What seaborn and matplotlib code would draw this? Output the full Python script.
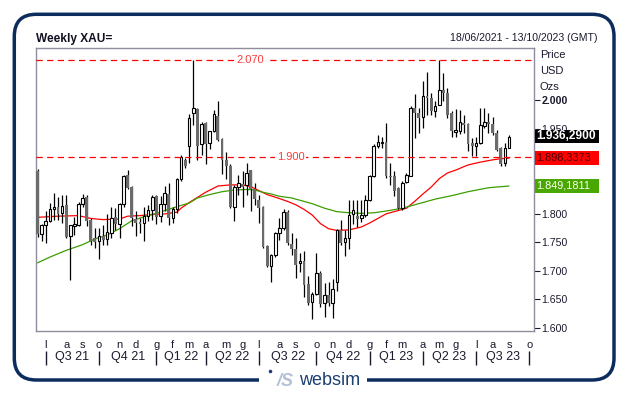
import numpy as np
import pandas as pd
import matplotlib
matplotlib.use('Agg')
import matplotlib.pyplot as plt
import matplotlib.transforms as mtransforms
from matplotlib.patches import FancyBboxPatch, Rectangle, Circle
import seaborn as sns

# weekly XAU candles (1.936 = 1.936 USD/oz in the source notation)
start_date = '2021-06-18'
end_date = '2023-10-13'

opens = [1.875, 1.764, 1.781, 1.787, 1.808, 1.812, 1.801, 1.816, 1.762, 1.778,
         1.780, 1.818, 1.830, 1.790, 1.758, 1.752, 1.762, 1.756, 1.767, 1.794,
         1.782, 1.817, 1.868, 1.847, 1.791, 1.786, 1.784, 1.796, 1.806, 1.831,
         1.796, 1.817, 1.835, 1.792, 1.808, 1.862, 1.895, 1.920, 1.977, 1.985,
         1.922, 1.960, 1.924, 1.946, 1.972, 1.932, 1.895, 1.884, 1.812, 1.847,
         1.853, 1.851, 1.877, 1.843, 1.825, 1.812, 1.743, 1.708, 1.727, 1.766,
         1.775, 1.803, 1.747, 1.738, 1.713, 1.717, 1.677, 1.646, 1.659, 1.696,
         1.643, 1.658, 1.643, 1.681, 1.772, 1.751, 1.757, 1.800, 1.796, 1.793,
         1.798, 1.824, 1.866, 1.920, 1.925, 1.927, 1.867, 1.867, 1.845, 1.810,
         1.856, 1.867, 1.987, 1.977, 1.970, 2.007, 2.004, 1.980, 1.991, 2.017,
         2.012, 1.977, 1.944, 1.946, 1.960, 1.958, 1.925, 1.919, 1.925, 1.954,
         1.962, 1.958, 1.942, 1.916, 1.889, 1.916]
highs = [1.879, 1.783, 1.805, 1.819, 1.836, 1.829, 1.834, 1.834, 1.781, 1.795,
         1.821, 1.835, 1.834, 1.793, 1.775, 1.775, 1.781, 1.799, 1.812, 1.810,
         1.819, 1.869, 1.877, 1.849, 1.805, 1.793, 1.812, 1.815, 1.834, 1.834,
         1.831, 1.849, 1.854, 1.812, 1.863, 1.903, 1.899, 1.975, 2.070, 1.987,
         1.962, 1.962, 1.946, 1.983, 1.999, 1.934, 1.909, 1.887, 1.851, 1.869,
         1.875, 1.889, 1.878, 1.854, 1.834, 1.814, 1.746, 1.729, 1.768, 1.793,
         1.808, 1.806, 1.766, 1.758, 1.731, 1.734, 1.690, 1.662, 1.731, 1.700,
         1.678, 1.680, 1.685, 1.774, 1.789, 1.772, 1.824, 1.824, 1.824, 1.824,
         1.833, 1.869, 1.922, 1.939, 1.936, 1.960, 1.889, 1.875, 1.848, 1.857,
         1.872, 1.989, 2.010, 1.986, 2.033, 2.049, 2.012, 1.998, 2.071, 2.048,
         2.021, 1.981, 1.985, 1.983, 1.974, 1.960, 1.933, 1.935, 1.987, 1.987,
         1.977, 1.971, 1.948, 1.917, 1.925, 1.938]
lows = [1.760, 1.752, 1.749, 1.785, 1.790, 1.790, 1.784, 1.757, 1.684, 1.763,
        1.778, 1.812, 1.778, 1.745, 1.740, 1.721, 1.745, 1.746, 1.758, 1.772,
        1.758, 1.812, 1.843, 1.778, 1.762, 1.766, 1.753, 1.787, 1.790, 1.782,
        1.786, 1.805, 1.780, 1.784, 1.802, 1.858, 1.880, 1.889, 1.956, 1.894,
        1.904, 1.888, 1.914, 1.944, 1.928, 1.870, 1.862, 1.810, 1.788, 1.834,
        1.813, 1.834, 1.805, 1.816, 1.784, 1.740, 1.706, 1.681, 1.725, 1.755,
        1.772, 1.746, 1.728, 1.688, 1.698, 1.654, 1.640, 1.615, 1.657, 1.637,
        1.619, 1.638, 1.617, 1.665, 1.745, 1.726, 1.738, 1.782, 1.777, 1.786,
        1.794, 1.822, 1.864, 1.916, 1.916, 1.863, 1.851, 1.831, 1.809, 1.807,
        1.854, 1.866, 1.933, 1.942, 1.951, 1.974, 1.974, 1.971, 1.991, 1.998,
        1.969, 1.936, 1.935, 1.941, 1.942, 1.910, 1.901, 1.901, 1.923, 1.951,
        1.942, 1.938, 1.910, 1.884, 1.884, 1.915]
closes = [1.764, 1.781, 1.787, 1.808, 1.812, 1.800, 1.814, 1.760, 1.780, 1.783,
          1.818, 1.828, 1.787, 1.753, 1.751, 1.761, 1.755, 1.768, 1.793, 1.783,
          1.817, 1.866, 1.845, 1.793, 1.784, 1.782, 1.796, 1.806, 1.829, 1.795,
          1.817, 1.836, 1.792, 1.808, 1.862, 1.900, 1.885, 1.969, 1.986, 1.920,
          1.958, 1.922, 1.946, 1.976, 1.930, 1.895, 1.884, 1.812, 1.847, 1.854,
          1.847, 1.872, 1.843, 1.827, 1.810, 1.742, 1.708, 1.727, 1.766, 1.775,
          1.803, 1.748, 1.738, 1.710, 1.717, 1.675, 1.644, 1.660, 1.696, 1.642,
          1.657, 1.643, 1.668, 1.772, 1.749, 1.757, 1.798, 1.806, 1.791, 1.798,
          1.824, 1.866, 1.920, 1.926, 1.927, 1.866, 1.864, 1.841, 1.810, 1.855,
          1.869, 1.987, 1.977, 1.969, 2.008, 2.003, 1.981, 1.989, 2.017, 2.012,
          1.974, 1.946, 1.948, 1.961, 1.957, 1.922, 1.920, 1.925, 1.956, 1.962,
          1.958, 1.942, 1.913, 1.888, 1.916, 1.936]

# moving averages, read at a subset of weeks
red_ma_week = [0, 5, 10, 13, 16, 20, 22, 25, 28, 31, 34, 35, 37, 39, 41, 44, 47, 50, 52, 54,
               56, 59, 61, 63, 65, 67, 69, 71, 73, 76, 79, 81, 83, 85, 88, 90, 92, 94, 96, 98,
               100, 102, 105, 108, 111, 113, 115]
red_ma = [1.794, 1.796, 1.797, 1.792, 1.790, 1.791, 1.796, 1.797, 1.799, 1.800,
          1.803, 1.810, 1.820, 1.829, 1.838, 1.849, 1.851, 1.851, 1.848, 1.841,
          1.834, 1.827, 1.822, 1.816, 1.808, 1.798, 1.783, 1.774, 1.771, 1.772,
          1.777, 1.784, 1.792, 1.800, 1.806, 1.810, 1.822, 1.835, 1.847, 1.862,
          1.872, 1.877, 1.886, 1.891, 1.895, 1.897, 1.898]
green_ma_week = [0, 3, 7, 11, 14, 17, 20, 23, 26, 29, 32, 35, 37, 39, 42, 45, 48, 51, 53, 55,
                 57, 59, 62, 64, 67, 70, 73, 76, 79, 82, 85, 89, 93, 97, 101, 105, 110, 115]
green_ma = [1.714, 1.724, 1.736, 1.746, 1.756, 1.763, 1.774, 1.788, 1.795, 1.801,
            1.808, 1.815, 1.819, 1.828, 1.834, 1.839, 1.842, 1.843, 1.842, 1.838,
            1.835, 1.831, 1.828, 1.824, 1.818, 1.810, 1.804, 1.802, 1.801, 1.802,
            1.805, 1.810, 1.818, 1.826, 1.832, 1.839, 1.846, 1.849]

level_values = [2.070, 1.900]
level_labels = ['2.070', '1.900']
last_values = [1.9363, 1.8983, 1.8492]
last_labels = ['1.936,2900', '1.898,3373', '1.849,1811']
price_ticks = [1.600, 1.650, 1.700, 1.750, 1.800, 1.850, 1.900, 1.950, 2.000]
hidden_ticks = ['1.850', '1.900']   # sit fully under the last-value boxes
month_letters = {1: 'g', 2: 'f', 3: 'm', 4: 'a', 5: 'm', 6: 'g',
                 7: 'l', 8: 'a', 9: 's', 10: 'o', 11: 'n', 12: 'd'}

all_dates = pd.date_range(start_date, end_date, freq='W-FRI')
df = pd.DataFrame({'open': opens, 'high': highs, 'low': lows, 'close': closes})
df['week'] = np.arange(len(df))
up = df[df.close >= df.open]
dn = df[df.close < df.open]

sns.set_style('white')
plt.rcParams['font.family'] = ['Liberation Sans', 'DejaVu Sans']

txt_col = '#1a1a2e'
fig = plt.figure(figsize=(6.29, 3.95), dpi=100)
bg = fig.add_axes([0, 0, 1, 1], zorder=0)
bg.set_xlim(0, 629)
bg.set_ylim(395, 0)
bg.axis('off')
ax = fig.add_axes([36 / 629, 1 - 331 / 395, 498 / 629, 283 / 395], zorder=1)

# candles
ax.vlines(df.week, df.low, df.high, color='black', lw=0.9, zorder=3)
ax.bar(dn.week, dn.open - dn.close, bottom=dn.close, width=0.72,
       color='#6b6b6b', lw=0, zorder=4)
ax.bar(up.week, up.close - up.open, bottom=up.open, width=0.6,
       color='white', edgecolor='black', lw=0.8, zorder=4)

# moving averages
sns.lineplot(x=red_ma_week, y=red_ma, ax=ax, color='#ff0000', lw=0.9, zorder=2)
sns.lineplot(x=green_ma_week, y=green_ma, ax=ax, color='#3c9e00', lw=0.9, zorder=2)

# horizontal levels
lvl_tr = mtransforms.blended_transform_factory(ax.transAxes, ax.transData)
for v, lbl, xpos in zip(level_values, level_labels, [0.43, 0.512]):
    ax.axhline(v, color='#ff0000', lw=0.9, ls=(0, (5, 3.5)), zorder=5)
    ax.text(xpos, v, lbl, transform=lvl_tr, ha='center', va='center', fontsize=8,
            color='#ff3a3a', zorder=6,
            bbox=dict(fc='white', ec='none', pad=1.2))

ax.set_xlim(-0.37, 121.1)
ax.set_ylim(1.5942, 2.0916)
ax.set_xlabel('')
ax.set_ylabel('')

# y axis on the right
ax.yaxis.tick_right()
ax.set_yticks(price_ticks)
ylbls = ax.set_yticklabels([f'{v:.3f}' if f'{v:.3f}' not in hidden_ticks else ''
                            for v in price_ticks])
for t in ylbls:
    if t.get_text() == '2.000':
        t.set_fontweight('bold')
        t.set_fontsize(9.2)
ax.tick_params(axis='y', length=4, width=0.8, pad=1.5, labelsize=7.6, colors=txt_col)

# month letters + quarter row
month_pos = [i for i in range(1, len(all_dates)) if all_dates[i].month != all_dates[i - 1].month]
ax.set_xticks(month_pos)
ax.set_xticklabels([month_letters[all_dates[i].month] for i in month_pos])
ax.tick_params(axis='x', length=4, width=0.8, pad=2.5, labelsize=8, colors=txt_col)

q_tr = mtransforms.blended_transform_factory(ax.transData, ax.transAxes)
q_bounds = [p for p in month_pos if all_dates[p].month in (1, 4, 7, 10)]
ax.vlines(q_bounds, -0.071, -0.121, transform=q_tr, clip_on=False, color=txt_col, lw=1)
for a, b in zip(q_bounds[:-1], q_bounds[1:]):
    d = all_dates[a]
    ax.text((a + b) / 2, -0.092, f'Q{(d.month - 1) // 3 + 1} {d.year % 100}', transform=q_tr,
            ha='center', va='center', fontsize=9, color=txt_col)

for s in ax.spines.values():
    s.set_color('#8e8e9e')
    s.set_linewidth(1)

# last value boxes
for v, lbl, fc, tc, fw, fs in zip(last_values, last_labels,
                                  ['#000000', '#ff0000', '#48a800'],
                                  ['white', '#4a0000', 'white'],
                                  ['bold', 'normal', 'normal'],
                                  [8.6, 7.8, 7.8]):
    h = 13.3 / 569
    ax.add_patch(Rectangle((1.002, v - h / 2), 0.1285, h, transform=lvl_tr, clip_on=False,
                           fc=fc, ec='none', zorder=7))
    ax.text(1.004, v, lbl, transform=lvl_tr, ha='left', va='center', fontsize=fs,
            fontweight=fw, color=tc, zorder=8, clip_on=False)

# header texts
bg.text(36, 39, 'Weekly XAU=', fontsize=8.6, fontweight='bold', ha='left', va='center', color='#111122')
bg.text(597, 38, '18/06/2021 - 13/10/2023 (GMT)', fontsize=7.6, ha='right', va='center', color=txt_col)
for y, t in zip([55, 71, 87], ['Price', 'USD', 'Ozs']):
    bg.text(540, y, t, fontsize=8, ha='left', va='center', color=txt_col)

# outer frame and logo
bg.add_patch(FancyBboxPatch((14.3, 14.3), 599.7, 365.7, boxstyle='round,pad=0,rounding_size=22',
                            lw=2.5, ec='#0b2c5c', fc='none', zorder=2))
bg.add_patch(Rectangle((259, 372), 108, 16, fc='white', ec='none', zorder=3))
bg.add_patch(Circle((270.5, 371.5), 1.8, fc='#1d3f73', ec='none', zorder=4))
bg.text(285, 381, '/S', fontsize=13, fontstyle='italic', fontweight='bold', color='#b3c0d6',
        ha='center', va='center', zorder=4)
bg.text(330, 380.5, 'websim', fontsize=13, color='#1d3f73', ha='center', va='center', zorder=4)

fig.savefig('out.png', dpi=100, facecolor='white')
